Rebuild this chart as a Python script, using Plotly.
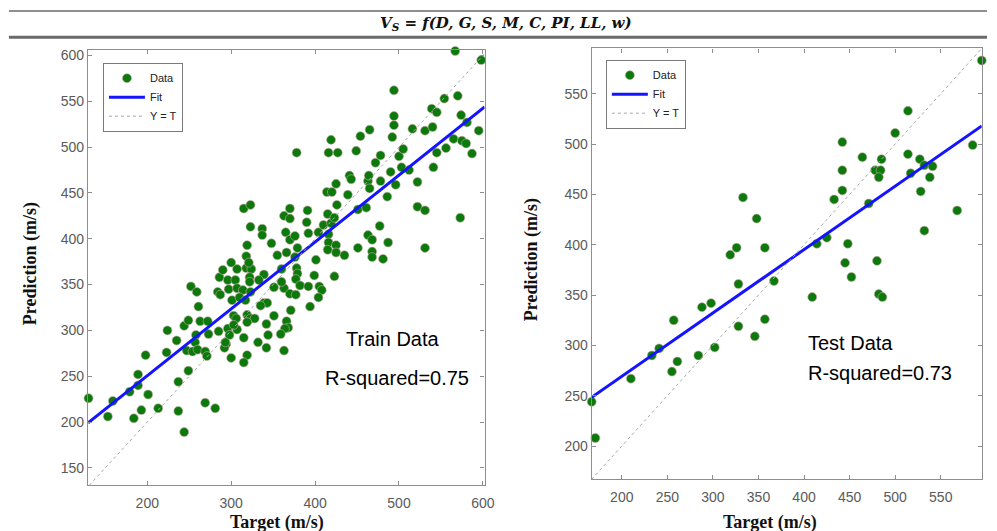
import numpy as np
import plotly.graph_objects as go

# ---- Training set: target vs. predicted shear-wave velocity (m/s) ----
train_target = [
    130, 153, 159, 179, 189, 189, 184, 193, 201, 198, 213, 223, 224, 235, 237, 237, 244, 244, 249, 247,
    249, 254, 252, 259, 258, 257, 260, 261, 263, 269, 269, 271, 272, 273, 281, 284, 287, 285, 286,
    296, 305, 300, 307, 318, 324, 322, 322, 297, 307, 314, 323, 301, 310, 317, 303, 306, 319, 323, 328,
    319, 296, 307, 303, 298, 294, 292, 293, 315, 300, 319, 315, 315, 323, 323, 319, 318, 321, 290,
    337, 337, 348, 355, 339, 333, 339, 343, 335, 342, 344, 332, 342, 351, 351, 363, 360, 366, 368, 364,
    359, 363, 371, 366, 365, 363, 370, 370, 370, 376, 360, 370,
    378, 391, 390, 392, 376, 379, 378, 379, 377, 382, 392, 405, 408, 377, 404, 401, 399, 394, 404, 410,
    416, 416, 415, 415, 414, 416, 420, 419, 419, 423,
    427, 425, 426, 423, 425, 425, 435, 439, 441, 443, 449, 451, 451, 461, 463, 464, 465, 465, 454, 463,
    468, 468, 468, 472,
    478, 478, 477, 481, 486, 487, 490, 492, 494, 494, 494, 496, 500, 503, 505, 512, 516, 522, 522, 531,
    531, 531, 539, 540, 541, 545, 545, 554, 556, 565, 567, 570, 573, 574, 575, 580, 581, 587, 595, 598,
]
train_prediction = [
    226, 206, 223, 233, 252, 240, 204, 213, 230, 273, 215, 276, 300, 289, 244, 212, 189, 305, 311, 278,
    256, 277, 348, 342, 295, 287, 279, 326, 310, 277, 221, 272, 310, 296, 215, 342, 339, 299, 358,
    355, 355, 374, 367, 368, 367, 358, 353, 345, 346, 344, 342, 333, 336, 333, 316, 313, 317, 313, 313,
    309, 302, 301, 306, 295, 285, 281, 287, 292, 270, 273, 265, 433, 437, 413, 393, 381, 374, 366,
    411, 404, 395, 382, 361, 355, 330, 330, 327, 307, 295, 287, 281, 347, 316, 346, 367, 310, 303, 302,
    296, 278, 322, 385, 407, 425, 433, 422, 399, 403, 353, 340,
    494, 431, 418, 406, 380, 390, 368, 362, 356, 349, 348, 348, 344, 339, 336, 377, 360, 326, 407, 415,
    405, 396, 388, 427, 451, 494, 451, 417, 508, 359,
    494, 460, 437, 423, 393, 385, 382, 448, 469, 465, 496, 432, 390, 434, 463, 469, 455, 519, 512, 404,
    399, 386, 380, 483,
    491, 463, 414, 378, 446, 396, 473, 511, 562, 534, 524, 459, 490, 478, 498, 475, 520, 462, 435, 518,
    431, 390, 542, 522, 478, 538, 494, 553, 499, 509, 605, 556, 423, 535, 507, 504, 527, 493, 518, 595,
]

# ---- Test set ----
test_target = [
    167, 171, 210, 233, 241, 255, 257, 261, 284, 288, 298, 302, 328, 328, 319, 326, 333, 348, 357, 367,
    346, 357, 409, 414, 425, 433, 442, 442, 442, 448, 445, 452, 464, 471, 478, 484, 485, 482, 480, 482,
    486, 500, 514, 514, 517, 527, 528, 532, 532, 538, 541, 568, 585, 595,
]
test_prediction = [
    244, 208, 267, 290, 297, 274, 325, 284, 290, 338, 342, 298, 361, 319, 390, 397, 447, 426, 397, 364,
    309, 326, 348, 401, 407, 445, 502, 474, 454, 401, 382, 368, 487, 441, 474, 474, 485, 467, 384, 351,
    348, 511, 533, 490, 471, 485, 453, 479, 414, 467, 478, 434, 499, 583,
]

# regression lines (slope, intercept) of prediction on target
train_fit = [0.730, 104.5]
test_fit = [0.630, 143.2]

train_labels = ["Train Data", "R-squared=0.75"]
test_labels = ["Test Data", "R-squared=0.73"]

train_xrange = [129.5, 602]
train_yrange = [131, 606]
test_range = [167, 595]

GREEN = "#0b7a0b"
BLUE = "#1414ff"
AXIS_GRAY = "#8e8e8e"
TICK_FONT = dict(family="Liberation Sans, Arial, sans-serif", size=14, color="#5a5a5a")
SERIF_BOLD = dict(family="Liberation Serif, Times New Roman, serif", size=18, color="#111111")
NARROW = dict(family="Liberation Sans Narrow, Arial Narrow, Liberation Sans, sans-serif", size=20, color="#000000")

fig = go.Figure()


def add_panel(target, pred, fit, xr, yr, xa, ya, legend_name):
    slope, intercept = fit
    lo, hi = xr
    fig.add_trace(go.Scatter(
        x=target, y=pred, mode="markers", name="Data", legend=legend_name,
        marker=dict(size=9, color=GREEN, line=dict(color="#caa9a9", width=0.6)),
        xaxis=xa, yaxis=ya, cliponaxis=False,
    ))
    fig.add_trace(go.Scatter(
        x=[lo, hi], y=[slope * lo + intercept, slope * hi + intercept],
        mode="lines", name="Fit", legend=legend_name,
        line=dict(color=BLUE, width=3), xaxis=xa, yaxis=ya,
    ))
    d_hi = min(xr[1], yr[1])
    d_lo = max(xr[0], yr[0])
    fig.add_trace(go.Scatter(
        x=[d_lo, d_hi], y=[d_lo, d_hi], mode="lines", name="Y = T", legend=legend_name,
        line=dict(color="#a8a8a8", width=1, dash="dot"), xaxis=xa, yaxis=ya,
    ))


add_panel(train_target, train_prediction, train_fit, train_xrange, train_yrange, "x", "y", "legend")
add_panel(test_target, test_prediction, test_fit, test_range, test_range, "x2", "y2", "legend2")

axis_common = dict(
    showline=True, linecolor=AXIS_GRAY, linewidth=1.3, mirror="ticks",
    ticks="inside", ticklen=4, tickcolor=AXIS_GRAY, tickwidth=1,
    showgrid=False, zeroline=False, tickfont=TICK_FONT,
)

legend_common = dict(
    bgcolor="white", bordercolor="#7a7a7a", borderwidth=1,
    font=dict(family="Liberation Sans, Arial, sans-serif", size=11, color="#222222"),
    xanchor="left", yanchor="top", itemwidth=36, tracegroupgap=0,
)

W, H = 997, 531
fig.update_layout(
    width=W, height=H,
    margin=dict(l=0, r=0, t=0, b=0),
    paper_bgcolor="white", plot_bgcolor="white",
    xaxis=dict(domain=[89 / W, 489.5 / W], range=train_xrange, tickvals=[200, 300, 400, 500, 600],
               anchor="y", ticklabelstandoff=5, **axis_common),
    yaxis=dict(domain=[1 - 485 / H, 1 - 47.3 / H], range=train_yrange,
               tickvals=[150, 200, 250, 300, 350, 400, 450, 500, 550, 600], anchor="x", **axis_common),
    xaxis2=dict(domain=[597.7 / W, 991.7 / W], range=test_range,
                tickvals=[200, 250, 300, 350, 400, 450, 500, 550], anchor="y2", ticklabelstandoff=5,
                **axis_common),
    yaxis2=dict(domain=[1 - 479 / H, 1 - 45.7 / H], range=test_range,
                tickvals=[200, 250, 300, 350, 400, 450, 500, 550], anchor="x2", **axis_common),
    legend=dict(x=104 / W, y=1 - 60 / H, **legend_common),
    legend2=dict(x=612 / W, y=1 - 57 / H, **legend_common),
    showlegend=True,
)


def label(x, y, text, font, angle=0, xanchor="center"):
    return dict(x=x / W, y=1 - y / H, xref="paper", yref="paper", showarrow=False,
                xanchor=xanchor, yanchor="middle", textangle=angle, text=text, font=font)


ann = [
    # equation header
    label(511, 21, "<b><i>V<sub>S</sub> = f(D, G, S, M, C, PI, LL, w)</i></b>",
          dict(family="DejaVu Serif, Liberation Serif, serif", size=15, color="#111111")),
    # axis titles
    label(31, 262, "<b>Prediction (m/s)</b>", SERIF_BOLD, angle=-90),
    label(537, 258, "<b>Prediction (m/s)</b>", SERIF_BOLD, angle=-90),
    label(280, 522, "<b>Target (m/s)</b>", SERIF_BOLD),
    label(778, 522, "<b>Target (m/s)</b>", SERIF_BOLD),
    # panel captions
    label(347, 338, train_labels[0], NARROW, xanchor="left"),
    label(326, 377, train_labels[1], NARROW, xanchor="left"),
    label(814, 342, test_labels[0], NARROW, xanchor="left"),
    label(814, 372, test_labels[1], NARROW, xanchor="left"),
]
fig.update_layout(annotations=ann)

# header rules above and below the equation
fig.add_shape(type="line", xref="paper", yref="paper", x0=9 / W, x1=1, y0=1 - 8 / H, y1=1 - 8 / H,
              line=dict(color="#6a6a6a", width=1.5))
fig.add_shape(type="line", xref="paper", yref="paper", x0=9 / W, x1=1, y0=1 - 34.5 / H, y1=1 - 34.5 / H,
              line=dict(color="#6a6a6a", width=3))

fig.write_html("out.html")
